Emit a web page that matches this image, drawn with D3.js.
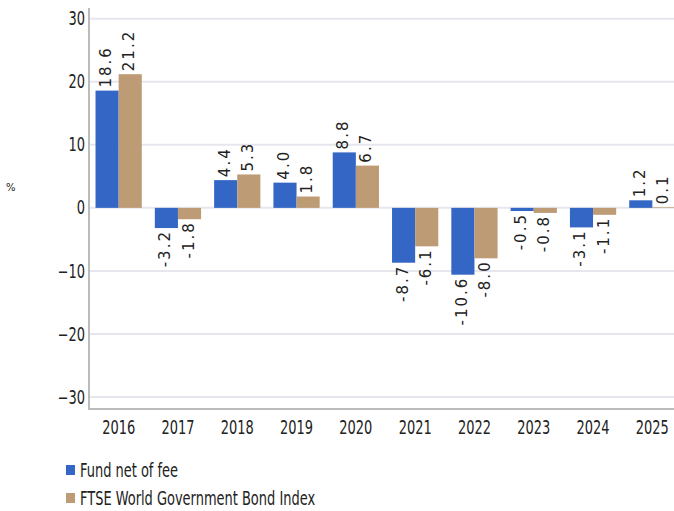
<!DOCTYPE html>
<html>
<head>
<meta charset="utf-8">
<script src="https://cdn.jsdelivr.net/npm/d3@7"></script>
<style>
    body { margin: 0; background: #fff; }
    .axis text { font-family: "DejaVu Sans Condensed", "DejaVu Sans", sans-serif; font-stretch: condensed; font-size: 19px; fill: #222; }
    .vlab { font-family: "DejaVu Sans", sans-serif; font-size: 15px; fill: #222; letter-spacing: 2px; }
    .leg { font-family: "DejaVu Sans Condensed", "DejaVu Sans", sans-serif; font-stretch: condensed; font-size: 19px; fill: #222; }
</style>
</head>
<body>
<svg width="674" height="511"></svg>
<script>
let years = ["2016", "2017", "2018", "2019", "2020", "2021", "2022", "2023", "2024", "2025"];
let fund = [18.6, -3.2, 4.4, 4.0, 8.8, -8.7, -10.6, -0.5, -3.1, 1.2];
let bench = [21.2, -1.8, 5.3, 1.8, 6.7, -6.1, -8.0, -0.8, -1.1, 0.1];
let seriesNames = ["Fund net of fee", "FTSE World Government Bond Index"];
let yTicks = [-30, -20, -10, 0, 10, 20, 30];

let colors = ["#3467c5", "#bd9b74"];
let sx = 0.76; // squeeze the condensed font a bit more

let svg = d3.select("svg"),
    plotL = 89, plotR = 682, plotT = 8, plotB = 409;

let x = d3.scaleBand().domain(years).range([plotL, plotR]).paddingInner(0.22).paddingOuter(0.11);
let x1 = d3.scaleBand().domain([0, 1]).range([0, x.bandwidth()]);
let y = d3.scaleLinear().domain([-31.9, 31.7]).range([plotB, plotT]);

// grid
svg.append("g").selectAll("line")
    .data(yTicks)
    .enter().append("line")
    .attr("x1", plotL).attr("x2", 674)
    .attr("y1", d => y(d)).attr("y2", d => y(d))
    .attr("stroke", "#e6e6ee").attr("stroke-width", 2);

// y axis
let gy = svg.append("g")
    .attr("class", "axis")
    .attr("transform", "translate(" + plotL + ",0)")
    .call(d3.axisLeft(y).tickValues(yTicks).tickSize(0).tickPadding(4).tickFormat(d => d < 0 ? "\u2212" + Math.abs(d) : d));
gy.select(".domain").remove();
gy.selectAll("text").attr("x", -4 / sx).attr("transform", "scale(" + sx + ",1)");

svg.append("line")
    .attr("x1", plotL).attr("x2", plotL).attr("y1", plotT).attr("y2", plotB + 1)
    .attr("stroke", "#bbb").attr("stroke-width", 2);
svg.append("line")
    .attr("x1", plotL).attr("x2", 674).attr("y1", plotB).attr("y2", plotB)
    .attr("stroke", "#bbb").attr("stroke-width", 2);

// x axis
let gx = svg.append("g")
    .attr("class", "axis")
    .attr("transform", "translate(0," + plotB + ")")
    .call(d3.axisBottom(x).tickSize(0).tickPadding(12));
gx.select(".domain").remove();
gx.selectAll("text").attr("transform", "scale(" + sx + ",1)");

svg.append("text")
    .attr("x", 6).attr("y", 191)
    .style("font-family", "DejaVu Sans, sans-serif")
    .style("font-size", "10px")
    .style("fill", "#222")
    .text("%");

// bars
let rows = years.map((yr, i) => ({ year: yr, vals: [fund[i], bench[i]] }));
let grp = svg.selectAll(".grp")
    .data(rows)
    .enter().append("g")
    .attr("class", "grp")
    .attr("transform", d => "translate(" + x(d.year) + ",0)");

let bars = grp.selectAll("g")
    .data(d => d.vals.map((v, k) => ({ v: v, k: k })))
    .enter().append("g");

bars.append("rect")
    .attr("x", d => x1(d.k))
    .attr("width", x1.bandwidth())
    .attr("y", d => y(Math.max(0, d.v)))
    .attr("height", d => Math.abs(y(d.v) - y(0)))
    .attr("fill", d => colors[d.k]);

bars.append("text")
    .attr("class", "vlab")
    .attr("transform", function (d) {
        let cx = x1(d.k) + x1.bandwidth() / 2 + 4;
        let yy = d.v >= 0 ? y(d.v) - 3 : y(d.v) + 2;
        return "translate(" + cx + "," + yy + ") rotate(-90)";
    })
    .attr("text-anchor", d => d.v >= 0 ? "start" : "end")
    .text(d => d.v.toFixed(1));

// legend
let leg = svg.selectAll(".legi")
    .data(seriesNames)
    .enter().append("g")
    .attr("class", "legi")
    .attr("transform", (d, i) => "translate(66," + (465 + i * 28) + ")");
leg.append("rect").attr("width", 9).attr("height", 10).attr("fill", (d, i) => colors[i]);
leg.append("text").attr("class", "leg")
    .attr("transform", "translate(14,12) scale(" + sx + ",1)")
    .text(d => d);
</script>
</body>
</html>
